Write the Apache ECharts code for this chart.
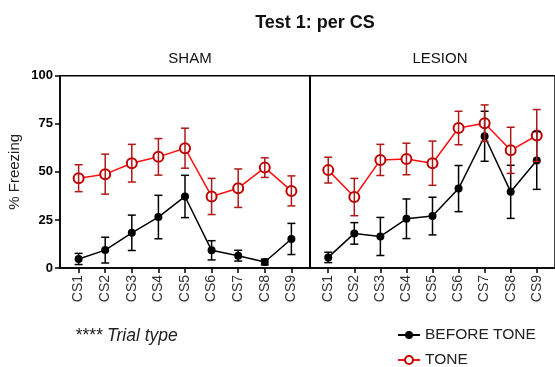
<!DOCTYPE html>
<html>
<head>
<meta charset="utf-8">
<script src="https://cdn.jsdelivr.net/npm/echarts@6/dist/echarts.min.js"></script>
<style>
  html, body { margin: 0; padding: 0; background: #fff; }
  #chart { width: 555px; height: 367px; }
</style>
</head>
<body>
<div id="chart"></div>
<script>
// Freezing per CS presentation, mean ± SEM
const categories = ['CS1', 'CS2', 'CS3', 'CS4', 'CS5', 'CS6', 'CS7', 'CS8', 'CS9'];
const yTicks = [0, 25, 50, 75, 100];

const shamBefore    = [4.7, 9.3, 18.3, 26.5, 37.2, 9.2, 6.4, 3.1, 15.1];
const shamBeforeSem = [2.9, 6.7, 9.2, 11.3, 11.0, 5.0, 2.8, 1.5, 8.1];
const shamTone      = [46.7, 48.8, 54.5, 57.8, 62.3, 37.2, 41.5, 52.2, 40.1];
const shamToneSem   = [7.0, 10.4, 9.8, 9.5, 10.4, 9.4, 10.0, 5.1, 7.8];

const lesionBefore    = [5.5, 18.0, 16.4, 25.6, 27.0, 41.3, 68.5, 39.6, 55.9];
const lesionBeforeSem = [2.7, 5.6, 9.9, 10.3, 9.8, 12.0, 13.0, 13.8, 15.0];
const lesionTone      = [50.9, 36.9, 56.2, 56.7, 54.5, 72.8, 75.3, 61.2, 68.9];
const lesionToneSem   = [6.7, 9.7, 8.1, 8.2, 11.5, 8.7, 9.5, 12.0, 13.5];

const FONT = '"Liberation Sans", Arial, Helvetica, sans-serif';
const RED_LINE = '#ff1010';
const RED_DARK = '#c00000';
const RED_BAR = '#b01818';
const BLACK = '#000000';

const positions = categories.map((c, i) => i + 1);

function points(values) {
  return values.map((v, i) => [positions[i], v]);
}
function ranges(values, sem) {
  return values.map((v, i) => [positions[i], v - sem[i], v + sem[i]]);
}

function errorBarSeries(values, sem, color, axisIdx) {
  return {
    type: 'custom',
    xAxisIndex: axisIdx,
    yAxisIndex: axisIdx,
    z: 5,
    silent: true,
    data: ranges(values, sem),
    renderItem: function (params, api) {
      const x = api.value(0);
      const lo = api.coord([x, api.value(1)]);
      const hi = api.coord([x, api.value(2)]);
      const half = 4;
      const style = { stroke: color, lineWidth: 1.5 };
      return {
        type: 'group',
        children: [
          { type: 'line', shape: { x1: lo[0], y1: lo[1], x2: hi[0], y2: hi[1] }, style: style },
          { type: 'line', shape: { x1: hi[0] - half, y1: hi[1], x2: hi[0] + half, y2: hi[1] }, style: style },
          { type: 'line', shape: { x1: lo[0] - half, y1: lo[1], x2: lo[0] + half, y2: lo[1] }, style: style }
        ]
      };
    }
  };
}

function beforeSeries(values, axisIdx) {
  return {
    name: 'BEFORE TONE',
    type: 'line',
    xAxisIndex: axisIdx,
    yAxisIndex: axisIdx,
    data: points(values),
    symbol: 'circle',
    symbolSize: 8,
    z: 3,
    lineStyle: { color: BLACK, width: 1.5 },
    itemStyle: { color: BLACK },
    emphasis: { disabled: true }
  };
}

function toneSeries(values, axisIdx) {
  return {
    name: 'TONE',
    type: 'line',
    xAxisIndex: axisIdx,
    yAxisIndex: axisIdx,
    data: points(values),
    symbol: 'emptyCircle',
    symbolSize: 10,
    z: 4,
    lineStyle: { color: RED_LINE, width: 1.5 },
    itemStyle: { color: RED_DARK, borderColor: RED_DARK, borderWidth: 1.5 },
    emphasis: { disabled: true }
  };
}

function xAxis(gridIdx) {
  return {
    type: 'value',
    gridIndex: gridIdx,
    min: 0.3,
    max: 9.7,
    splitLine: { show: false },
    axisLine: { show: true, lineStyle: { color: '#000', width: 1.5 } },
    axisTick: {
      show: true, length: 5, customValues: positions,
      lineStyle: { color: '#000', width: 1.5 }
    },
    axisLabel: {
      show: true,
      customValues: positions,
      rotate: 90,
      margin: 7,
      fontFamily: FONT,
      fontSize: 14,
      color: '#333',
      formatter: function (v) { return categories[Math.round(v) - 1]; }
    }
  };
}

function yAxis(gridIdx, withLabels) {
  return {
    type: 'value',
    gridIndex: gridIdx,
    min: yTicks[0],
    max: yTicks[yTicks.length - 1],
    interval: 25,
    splitLine: { show: false },
    axisLine: { show: true, lineStyle: { color: '#000', width: 1.5 } },
    axisTick: { show: withLabels, length: 5, lineStyle: { color: '#000', width: 1.5 } },
    axisLabel: {
      show: withLabels,
      margin: 7,
      fontFamily: FONT,
      fontSize: 13,
      fontWeight: 'bold',
      color: '#000'
    },
    name: withLabels ? '% Freezing' : '',
    nameLocation: 'middle',
    nameRotate: 90,
    nameGap: 38,
    nameTextStyle: { fontFamily: FONT, fontSize: 15, color: '#222' }
  };
}

const chart = echarts.init(document.getElementById('chart'), null, { renderer: 'canvas' });

chart.setOption({
  animation: false,
  backgroundColor: '#ffffff',
  title: [
    {
      text: 'Test 1: per CS', left: 310, top: 9, textAlign: 'center',
      textStyle: { fontFamily: FONT, fontSize: 18, fontWeight: 'bold', color: '#111' }
    },
    {
      text: 'SHAM', left: 185, top: 46, textAlign: 'center',
      textStyle: { fontFamily: FONT, fontSize: 15, fontWeight: 'normal', color: '#111' }
    },
    {
      text: 'LESION', left: 435, top: 46, textAlign: 'center',
      textStyle: { fontFamily: FONT, fontSize: 15, fontWeight: 'normal', color: '#111' }
    },
    {
      text: '**** Trial type', left: 70, top: 322,
      textStyle: { fontFamily: FONT, fontSize: 17.5, fontStyle: 'italic', fontWeight: 'normal', color: '#222' }
    }
  ],
  legend: {
    data: ['BEFORE TONE', 'TONE'],
    orient: 'vertical',
    left: 392,
    top: 322,
    height: 60,
    itemWidth: 22,
    itemHeight: 10,
    itemGap: 9,
    selectedMode: false,
    textStyle: { fontFamily: FONT, fontSize: 15.5, color: '#222' }
  },
  grid: [
    { left: 60, top: 75.7, width: 250, height: 192.3, show: true, borderColor: '#000', borderWidth: 1.5, backgroundColor: 'transparent' },
    { left: 310, top: 75.7, width: 250, height: 192.3, show: true, borderColor: '#000', borderWidth: 1.5, backgroundColor: 'transparent' }
  ],
  xAxis: [xAxis(0), xAxis(1)],
  yAxis: [yAxis(0, true), yAxis(1, false)],
  series: [
    beforeSeries(shamBefore, 0),
    toneSeries(shamTone, 0),
    errorBarSeries(shamBefore, shamBeforeSem, BLACK, 0),
    errorBarSeries(shamTone, shamToneSem, RED_BAR, 0),
    beforeSeries(lesionBefore, 1),
    toneSeries(lesionTone, 1),
    errorBarSeries(lesionBefore, lesionBeforeSem, BLACK, 1),
    errorBarSeries(lesionTone, lesionToneSem, RED_BAR, 1)
  ]
});
</script>
</body>
</html>
